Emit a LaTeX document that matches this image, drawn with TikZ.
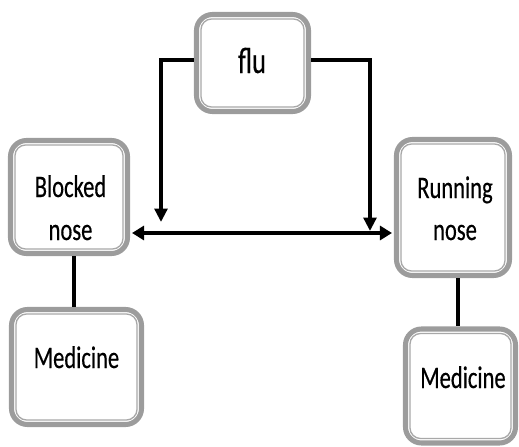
\documentclass[tikz,border=0pt]{standalone}
\usepackage{fontspec}
\newfontfamily\boxfont[FakeStretch=0.72,FakeBold=0.4]{Carlito}
\usetikzlibrary{arrows.meta}
\definecolor{rimgray}{HTML}{9C9C9C}
\definecolor{innergray}{HTML}{A8A8A8}
\tikzset{
  boxrim/.style={draw=rimgray, line width=3.8pt, rounded corners=12pt, fill=white, inner sep=0pt},
  boxinner/.style={draw=innergray, line width=1pt, rounded corners=8pt},
  boxtext/.style={font=\boxfont\fontsize{23.5}{26}\selectfont, anchor=base, inner sep=0pt},
  conn/.style={draw=black, line width=3.2pt},
  tip/.style={-{Triangle[length=10pt,width=9.5pt]}},
  dtip/.style={{Triangle[length=9pt,width=10.5pt]}-{Triangle[length=9pt,width=10.5pt]}}
}
\newcommand{\innerframe}[1]{%
  \draw[boxinner] ([shift={(7,7)}]#1.north west) rectangle ([shift={(-7,-7)}]#1.south east);}
\begin{document}
\begin{tikzpicture}[x=0.75pt,y=-0.75pt]
\useasboundingbox (0,0) rectangle (519,447);
% boxes
\node[boxrim, minimum width=84pt, minimum height=72.75pt] (flu) at (252.5,63) {};
\node[boxrim, minimum width=87.75pt, minimum height=84.75pt] (blocked) at (69,197) {};
\node[boxrim, minimum width=84.75pt, minimum height=102pt] (running) at (453,207.5) {};
\node[boxrim, minimum width=97.5pt, minimum height=86.25pt] (medl) at (76.5,367) {};
\node[boxrim, minimum width=82.5pt, minimum height=85.5pt] (medr) at (460.5,386) {};
\innerframe{flu}
\innerframe{blocked}
\innerframe{running}
\innerframe{medl}
\innerframe{medr}
% texts
\node[boxtext, font=\boxfont\fontsize{27.5}{30}\selectfont] (fluT) at (252,73) {flu};
\node[boxtext] (blockedT1) at (70.5,197) {Blocked};
\node[boxtext] (blockedT2) at (70.5,240) {nose};
\node[boxtext] (runningT1) at (455,198) {Running};
\node[boxtext] (runningT2) at (455,240) {nose};
\node[boxtext] (medlT) at (76.5,368) {Medicine};
\node[boxtext] (medrT) at (463,388) {Medicine};
% helper coordinates
\coordinate (fy) at (0,60);
\coordinate (lt) at (161,222);
\coordinate (rt) at (370,231);
\coordinate (hy) at (0,233);
\coordinate (vl) at (74,0);
\coordinate (vr) at (458,0);
% connectors
\draw[conn, tip] (flu.west |- fy) -| (lt);
\draw[conn, tip] (flu.east |- fy) -| (rt);
\draw[conn, dtip] ([xshift=1.5pt]blocked.east |- hy) -- ([xshift=-1.5pt]running.west |- hy);
\draw[conn] (blocked.south -| vl) -- (medl.north -| vl);
\draw[conn] (running.south -| vr) -- (medr.north -| vr);
\end{tikzpicture}
\end{document}
